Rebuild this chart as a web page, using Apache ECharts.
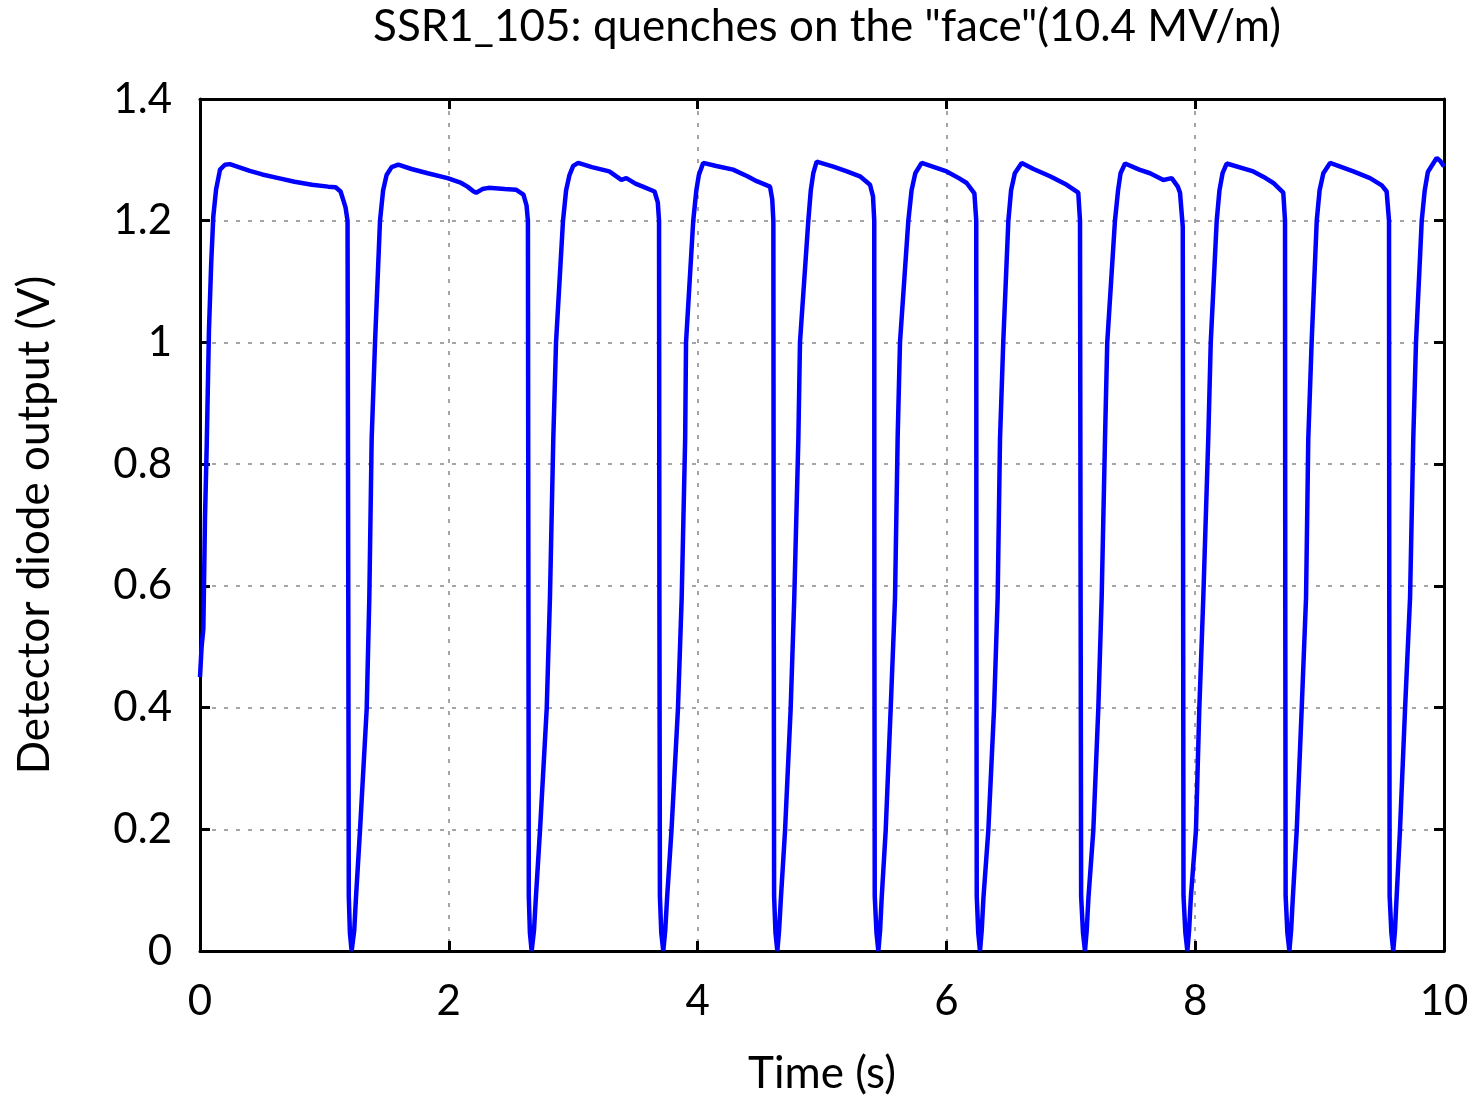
<!DOCTYPE html>
<html>
<head>
<meta charset="utf-8">
<script src="https://cdn.jsdelivr.net/npm/echarts@6/dist/echarts.min.js"></script>
<style>
html,body{margin:0;padding:0;background:#fff;}
#chart{width:1475px;height:1101px;}
</style>
</head>
<body>
<div id="chart"></div>
<script>
var titleText = 'SSR1_105: quenches on the "face"(10.4 MV/m)';
var xName = 'Time (s)';
var yName = 'Detector diode output (V)';
var xTicks = [0, 2, 4, 6, 8, 10];
var yTicks = [0, 0.2, 0.4, 0.6, 0.8, 1, 1.2, 1.4];

// time (s)
var t = [
0.000,0.013,0.027,0.040,0.054,0.072,0.090,0.107,0.129,0.161,0.20,0.24,0.40,0.50,0.63,0.76,0.90,1.03,1.09,1.13,1.15,1.17,1.186,1.192,1.196,1.205,1.219,
1.240,1.254,1.286,1.340,1.361,1.380,1.407,1.447,1.472,1.50,1.54,1.594,1.70,1.83,1.99,2.10,2.15,2.20,2.22,2.27,2.32,2.45,2.54,2.60,2.625,2.636,2.640,2.643,2.652,2.666,
2.685,2.700,2.733,2.787,2.813,2.840,2.862,2.918,2.943,2.97,3.00,3.04,3.15,3.29,3.387,3.427,3.50,3.56,3.654,3.680,3.690,3.693,3.697,3.708,3.724,
3.740,3.755,3.790,3.842,3.872,3.900,3.907,3.965,3.99,4.01,4.045,4.15,4.285,4.40,4.475,4.582,4.600,4.609,4.612,4.615,4.626,4.641,
4.655,4.670,4.703,4.748,4.777,4.810,4.823,4.890,4.91,4.93,4.957,5.091,5.20,5.305,5.386,5.410,5.420,5.421,5.424,5.438,5.453,
5.467,5.480,5.512,5.552,5.587,5.608,5.627,5.694,5.72,5.75,5.801,6.002,6.10,6.163,6.225,6.240,6.241,6.244,6.256,6.270,
6.284,6.298,6.337,6.383,6.412,6.431,6.457,6.498,6.52,6.55,6.605,6.70,6.833,6.967,7.060,7.074,7.079,7.083,7.098,7.114,
7.128,7.142,7.181,7.221,7.248,7.275,7.293,7.355,7.38,7.40,7.436,7.55,7.637,7.744,7.811,7.860,7.878,7.900,7.903,7.906,7.921,7.937,
7.951,7.965,8.006,8.033,8.065,8.105,8.125,8.173,8.195,8.22,8.253,8.467,8.55,8.628,8.708,8.722,8.724,8.727,8.741,8.757,
8.771,8.785,8.816,8.856,8.891,8.909,8.936,8.977,9.00,9.03,9.084,9.271,9.405,9.50,9.539,9.558,9.560,9.563,9.577,9.592,
9.606,9.619,9.646,9.687,9.727,9.753,9.775,9.821,9.845,9.87,9.941,9.97,10.0
];
// detector output (V)
var v = [
0.45,0.50,0.53,0.71,0.83,1.02,1.13,1.207,1.251,1.284,1.292,1.293,1.282,1.276,1.270,1.264,1.259,1.256,1.255,1.248,1.235,1.222,1.20,0.58,0.09,0.03,0.00,
0.034,0.088,0.198,0.398,0.58,0.842,1.00,1.20,1.25,1.275,1.288,1.292,1.285,1.278,1.270,1.262,1.256,1.248,1.246,1.252,1.254,1.252,1.251,1.243,1.225,1.20,0.58,0.09,0.03,0.00,
0.034,0.088,0.198,0.398,0.58,0.842,1.00,1.20,1.25,1.275,1.29,1.295,1.288,1.281,1.267,1.270,1.261,1.256,1.248,1.230,1.20,0.58,0.09,0.03,0.00,
0.034,0.088,0.198,0.398,0.58,0.842,1.00,1.20,1.25,1.275,1.295,1.290,1.284,1.273,1.265,1.256,1.235,1.20,0.58,0.09,0.03,0.00,
0.034,0.088,0.198,0.398,0.58,0.842,1.00,1.20,1.25,1.278,1.297,1.289,1.281,1.273,1.259,1.24,1.20,0.58,0.09,0.03,0.00,
0.034,0.088,0.198,0.398,0.58,0.842,1.00,1.20,1.25,1.278,1.295,1.281,1.270,1.262,1.245,1.20,0.58,0.09,0.03,0.00,
0.034,0.088,0.198,0.398,0.58,0.842,1.00,1.20,1.25,1.278,1.295,1.285,1.273,1.259,1.246,1.20,0.58,0.09,0.03,0.00,
0.034,0.088,0.198,0.398,0.58,0.842,1.00,1.20,1.25,1.278,1.294,1.284,1.278,1.267,1.270,1.256,1.246,1.19,0.58,0.09,0.03,0.00,
0.034,0.088,0.198,0.398,0.58,0.842,1.00,1.20,1.25,1.278,1.294,1.281,1.272,1.262,1.246,1.20,0.58,0.09,0.03,0.00,
0.034,0.088,0.198,0.398,0.58,0.842,1.00,1.20,1.25,1.278,1.295,1.281,1.270,1.258,1.248,1.20,0.58,0.09,0.03,0.00,
0.034,0.088,0.198,0.398,0.58,0.842,1.00,1.20,1.25,1.28,1.303,1.298,1.289
];

var data = t.map(function (x, i) { return [x, v[i]]; });
var FONT = 'Lato';

var chart = echarts.init(document.getElementById('chart'), null, {renderer: 'canvas'});

var tickStyle = {show: true, inside: true, length: 10, lineStyle: {color: '#000', width: 3}};
var lineStyle = {show: true, onZero: false, lineStyle: {color: '#000', width: 3}};
var gridLine = {show: true, lineStyle: {color: '#888', width: 1.5, type: [4, 8]}};

chart.setOption({
  animation: false,
  backgroundColor: '#fff',
  title: {
    text: titleText,
    left: 822,
    textAlign: 'center',
    top: 0,
    textStyle: {fontFamily: FONT, fontSize: 44, fontWeight: 'normal', color: '#000'}
  },
  grid: {left: 200, right: 31, top: 99, bottom: 147, containLabel: false},
  xAxis: [{
    type: 'value', min: xTicks[0], max: xTicks[xTicks.length - 1], interval: xTicks[1] - xTicks[0],
    position: 'bottom',
    name: xName, nameLocation: 'middle', nameGap: 101,
    nameTextStyle: {fontFamily: FONT, fontSize: 44, color: '#000'},
    axisLine: lineStyle, axisTick: tickStyle,
    axisLabel: {fontFamily: FONT, fontSize: 42, color: '#000', margin: 29},
    splitLine: gridLine
  }, {
    type: 'value', min: xTicks[0], max: xTicks[xTicks.length - 1], interval: xTicks[1] - xTicks[0],
    position: 'top',
    axisLine: lineStyle, axisTick: tickStyle,
    axisLabel: {show: false}, splitLine: {show: false}
  }],
  yAxis: [{
    type: 'value', min: yTicks[0], max: yTicks[yTicks.length - 1], interval: 0.2,
    position: 'left',
    name: yName, nameLocation: 'middle', nameGap: 143,
    nameTextStyle: {fontFamily: FONT, fontSize: 44, color: '#000'},
    axisLine: lineStyle, axisTick: tickStyle,
    axisLabel: {fontFamily: FONT, fontSize: 42, color: '#000', margin: 28},
    splitLine: gridLine
  }, {
    type: 'value', min: yTicks[0], max: yTicks[yTicks.length - 1], interval: 0.2,
    position: 'right',
    axisLine: lineStyle, axisTick: tickStyle,
    axisLabel: {show: false}, splitLine: {show: false}
  }],
  series: [{
    type: 'line',
    data: data,
    xAxisIndex: 0, yAxisIndex: 0,
    showSymbol: false,
    symbol: 'none',
    clip: true,
    lineStyle: {color: '#0000ff', width: 4.5},
    z: 3
  }]
});
</script>
</body>
</html>
